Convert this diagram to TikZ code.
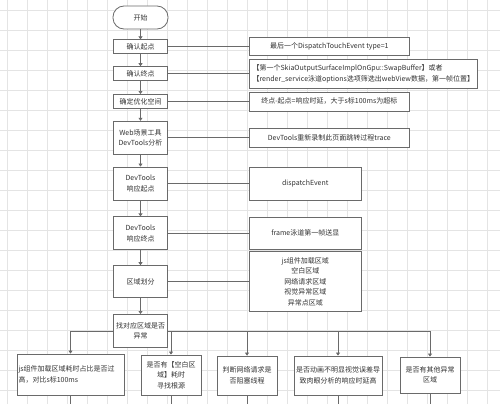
\documentclass[tikz,border=0pt]{standalone}
\usepackage{fontspec}
\setmainfont{Noto Sans CJK SC}
\usetikzlibrary{arrows.meta,positioning}

\definecolor{boxline}{HTML}{6A6A6A}
\definecolor{txtgray}{HTML}{333333}
\definecolor{gridgray}{HTML}{E4E4E4}

\tikzset{
  proc/.style={draw=boxline,fill=white,line width=0.8pt,minimum width=54pt,
    minimum height=14pt,inner sep=1pt,align=center},
  startbox/.style={proc,rounded corners=11pt,minimum width=55pt,minimum height=23pt},
  note/.style={draw=boxline,fill=white,line width=0.8pt,minimum height=18pt,
    inner sep=1pt,align=center},
  flow/.style={draw=boxline,line width=0.7pt,->},
  link/.style={draw=boxline,line width=0.7pt},
  gridline/.style={draw=gridgray,line width=0.5pt}
}

\begin{document}
\begin{tikzpicture}[x=1pt,y=-1pt,>={Triangle[length=3pt,width=4pt]},
    font=\fontsize{7}{10.5}\selectfont,text=txtgray]
    \useasboundingbox (0,0) rectangle (500,404);
    % background grid
    \foreach \gx in {7,27,...,487} \draw[gridline] (\gx,0) -- (\gx,404);
    \foreach \gy in {10,30,...,390} \draw[gridline] (0,\gy) -- (500,\gy);

    % main column
    \node[startbox] (kaishi) at (140.5,17.5) {开始};
    \node[proc]                  (qdqd)  [below=10pt of kaishi] {确认起点};
    \node[proc]                  (qdzd)  [below=12pt of qdqd]   {确认终点};
    \node[proc]                  (yhkj)  [below=13pt of qdzd]   {确定优化空间};
    \node[proc,minimum height=33pt] (webgj) [below=12pt of yhkj]  {Web场景工具\\DevTools分析};
    \node[proc,minimum height=33pt] (xyqd)  [below=12pt of webgj] {DevTools\\响应起点};
    \node[proc,minimum height=33pt] (xyzd)  [below=16pt of xyqd]  {DevTools\\响应终点};
    \node[proc,minimum height=32pt] (qyhf)  [below=15pt of xyzd]  {区域划分};
    \node[proc,minimum height=33pt] (zdyc)  [below=16pt of qyhf]  {找对应区域是否\\异常};

    % notes on the right
    \node[note,minimum width=160pt] (dispatch) [right=81pt of qdqd] {最后一个DispatchTouchEvent type=1};
    \node[note,minimum width=228pt,minimum height=29pt,align=left] (swap) [right=81pt of qdzd]
      {【第一个SkiaOutputSurfaceImplOnGpu::SwapBuffer】或者\\【render\_service泳道options选项筛选出webView数据，第一帧位置】};
    \node[note,minimum width=160pt,minimum height=19pt] (xysj)  [right=81pt of yhkj]  {终点-起点=响应时延，大于s标100ms为超标};
    \node[note,minimum width=160pt,minimum height=19pt] (trace) [right=81pt of webgj] {DevTools重新录制此页面跳转过程trace};
    \node[note,minimum width=112pt,minimum height=33pt] (dpev)  [right=81pt of xyqd]  {dispatchEvent};
    \node[note,minimum width=112pt,minimum height=32pt] (frame) [right=81pt of xyzd]  {frame泳道第一帧送显};
    \node[note,minimum width=112pt,minimum height=60pt] (qylb)  [right=81pt of qyhf]
      {js组件加载区域\\空白区域\\网络请求区域\\视觉异常区域\\异常点区域};

    % checks at the bottom
    \node[note,minimum width=107pt,minimum height=41pt,text width=104pt,align=left] (jszj) at (70.5,374.5)
      {js组件加载区域耗时占比是否过\\高，对比s标100ms};
    \node[note,minimum width=60pt,minimum height=40pt] (kbqy) at (171,375)   {是否有【空白区\\域】耗时\\寻找根源};
    \node[note,minimum width=60pt,minimum height=39pt] (wlqq) at (247,375.5) {判断网络请求是\\否阻塞线程};
    \node[note,minimum width=88pt,minimum height=39pt] (dhwc) at (338,375.5) {是否动画不明显视觉误差导\\致肉眼分析的响应时延高};
    \node[note,minimum width=60pt,minimum height=36pt] (qtyc) at (430,375)   {是否有其他异常\\区域};
    \coordinate (cut) at (0,404);

    \foreach \a/\b in {kaishi/qdqd,qdqd/qdzd,qdzd/yhkj,yhkj/webgj,webgj/xyqd,xyqd/xyzd,xyzd/qyhf,qyhf/zdyc}
      \draw[flow] (\a) -- (\b);
    \foreach \a/\b in {qdqd/dispatch,qdzd/swap,yhkj/xysj,webgj/trace,xyqd/dpev,xyzd/frame,qyhf/qylb}
      \draw[link] (\a) -- (\b);

    \draw[flow] (zdyc.west) -| (jszj.north);
    \foreach \b in {kbqy,wlqq,dhwc,qtyc}
      \draw[flow] (zdyc.east) -| (\b.north);
    \foreach \b in {jszj,kbqy,wlqq,dhwc,qtyc}
      \draw[link] (\b.south) -- (\b.south |- cut);
\end{tikzpicture}
\end{document}
